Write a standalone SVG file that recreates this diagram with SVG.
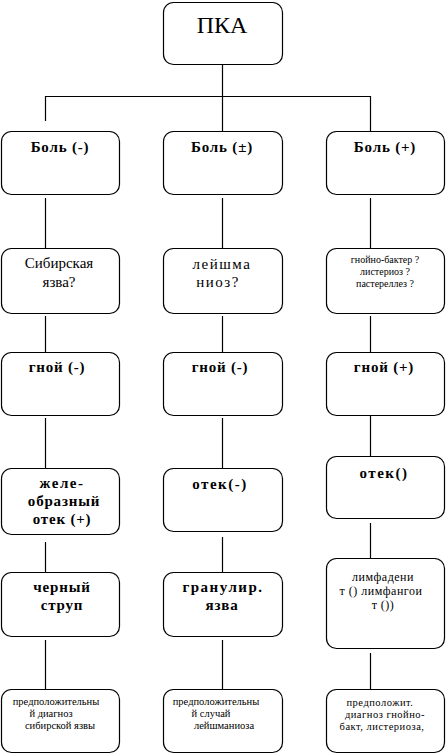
<svg xmlns="http://www.w3.org/2000/svg" width="446" height="754" viewBox="0 0 446 754">
<style>
.box{fill:#fff;stroke:#000;stroke-width:1.2}
.ln{fill:none;stroke:#000;stroke-width:1.2}
text{font-family:"Liberation Serif","Tinos","Times New Roman","DejaVu Serif",serif;fill:#000;text-anchor:middle}
.b{font-weight:bold;font-size:15px;letter-spacing:0.8px}
.r{font-size:15px}
.s{font-size:10px}
.m{font-size:12px;letter-spacing:0.5px}
.t{font-size:10.5px}
</style>
<rect width="446" height="754" fill="#fff"/>
<g id="connectors">
<path class="ln" d="M222.5 57V137M45.5 96.5H370.5M45.5 96V121M370.5 96V137"/>
<path class="ln" d="M45.5 198V248M222.5 198V248M370.5 198V248"/>
<path class="ln" d="M45.5 316V367M222.5 316V367M370.5 316V352"/>
<path class="ln" d="M45.5 418V468M222.5 418V468M370.5 407V463"/>
<path class="ln" d="M45.5 542V573M222.5 537V577M370.5 523V563"/>
<path class="ln" d="M45.5 640V693M222.5 640V693M370.5 653V697"/>
</g>
<g id="n0"><rect class="box" x="163.5" y="2.5" width="119" height="62" rx="10"/><text x="222" y="33" style="font-size:24px">ПКА</text></g>
<g id="n1a"><rect class="box" x="1.5" y="131.5" width="118" height="63" rx="10"/><text class="b" x="60" y="152">Боль (-)</text></g>
<g id="n1b"><rect class="box" x="163.5" y="131.5" width="119" height="63" rx="10"/><text class="b" x="222" y="152">Боль (±)</text></g>
<g id="n1c"><rect class="box" x="326.5" y="131.5" width="118" height="63" rx="10"/><text class="b" x="385" y="152">Боль (+)</text></g>
<g id="n2a"><rect class="box" x="1.5" y="248.5" width="118" height="65" rx="10"/><text class="r" x="59" y="268">Сибирская</text><text class="r" x="59" y="287">язва?</text></g>
<g id="n2b"><rect class="box" x="163.5" y="248.5" width="119" height="65" rx="10"/><text class="r" x="222" y="269" style="letter-spacing:1.5px">лейшма</text><text class="r" x="218" y="287" style="letter-spacing:1.5px">ниоз?</text></g>
<g id="n2c"><rect class="box" x="326.5" y="248.5" width="118" height="65" rx="10"/><text class="s" x="385" y="263">гнойно-бактер ?</text><text class="s" x="385" y="275">листериоз ?</text><text class="s" x="385" y="287">пастереллез ?</text></g>
<g id="n3a"><rect class="box" x="1.5" y="352.5" width="118" height="63" rx="10"/><text class="b" x="57" y="372">гной (-)</text></g>
<g id="n3b"><rect class="box" x="163.5" y="352.5" width="119" height="63" rx="10"/><text class="b" x="220" y="372">гной (-)</text></g>
<g id="n3c"><rect class="box" x="326.5" y="352.5" width="118" height="63" rx="10"/><text class="b" x="384" y="372">гной (+)</text></g>
<g id="n4a"><rect class="box" x="1.5" y="468.5" width="118" height="66" rx="10"/><text class="b" x="62" y="488" style="letter-spacing:1.5px">желе-</text><text class="b" x="64" y="506">образный</text><text class="b" x="62" y="524">отек (+)</text></g>
<g id="n4b"><rect class="box" x="163.5" y="468.5" width="119" height="63" rx="10"/><text class="b" x="220" y="489" style="letter-spacing:1.5px">отек(-)</text></g>
<g id="n4c"><rect class="box" x="326.5" y="456.5" width="118" height="62" rx="10"/><text class="b" x="384" y="478" style="letter-spacing:1.5px">отек()</text></g>
<g id="n5a"><rect class="box" x="1.5" y="572.5" width="118" height="64" rx="10"/><text class="b" x="62" y="592">черный</text><text class="b" x="62" y="610">струп</text></g>
<g id="n5b"><rect class="box" x="163.5" y="572.5" width="119" height="64" rx="10"/><text class="b" x="223" y="592" style="letter-spacing:1.5px">гранулир.</text><text class="b" x="222" y="610">язва</text></g>
<g id="n5c"><rect class="box" x="326.5" y="558.5" width="118" height="90" rx="10"/><text class="m" x="383" y="581">лимфадени</text><text class="m" x="381" y="595">т () лимфангои</text><text class="m" x="383" y="609">т ())</text></g>
<g id="n6a"><rect class="box" x="1.5" y="689.5" width="118" height="63" rx="10"/><text class="t" x="56" y="705">предположительны</text><text class="t" x="51" y="717">й диагноз</text><text class="t" x="60" y="729">сибирской язвы</text></g>
<g id="n6b"><rect class="box" x="163.5" y="689.5" width="119" height="63" rx="10"/><text class="t" x="216" y="705">предположительны</text><text class="t" x="211" y="717">й случай</text><text class="t" x="224" y="729">лейшманиоза</text></g>
<g id="n6c"><rect class="box" x="326.5" y="689.5" width="118" height="63" rx="10"/><text class="t" x="380" y="706" style="letter-spacing:0.5px">предположит.</text><text class="t" x="385" y="718" style="letter-spacing:0.5px">диагноз гнойно-</text><text class="t" x="382" y="730" style="letter-spacing:0.5px">бакт, листериоза,</text></g>
</svg>
